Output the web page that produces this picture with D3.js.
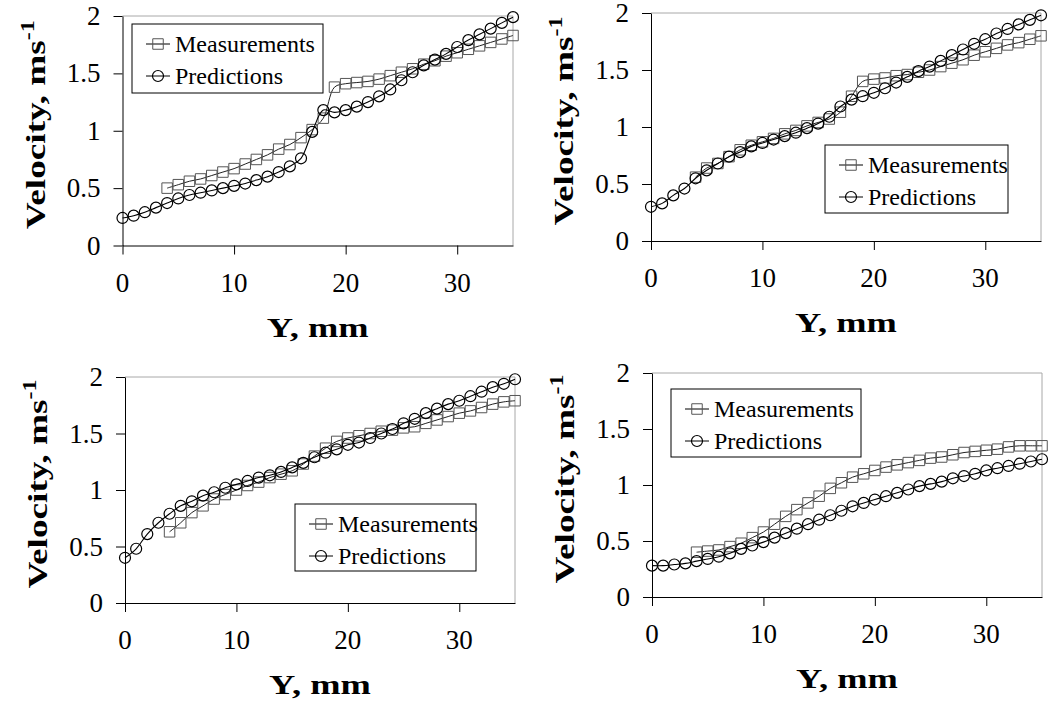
<!DOCTYPE html>
<html>
<head>
<meta charset="utf-8">
<script src="https://cdn.jsdelivr.net/npm/d3@7"></script>
<style>
  html, body { margin: 0; padding: 0; background: #fff; }
  svg { display: block; }
</style>
</head>
<body>
<svg id="chart" width="1051" height="704"></svg>
<script>
// ---------- data ----------
const predY = d3.range(0, 36);          // Y, mm for predictions
const measY = d3.range(4, 36);          // Y, mm for measurements
const xTicks = [0, 10, 20, 30];
const yTicks = [0, 0.5, 1, 1.5, 2];
const yTickLabels = ["0", "0.5", "1", "1.5", "2"];
const seriesNames = ["Measurements", "Predictions"];

const pred1 = [0.24,0.26,0.29,0.33,0.37,0.41,0.44,0.46,0.48,0.50,0.52,0.54,0.57,0.60,0.64,0.69,0.76,0.99,1.18,1.16,1.18,1.21,1.25,1.30,1.36,1.44,1.51,1.57,1.62,1.67,1.73,1.79,1.84,1.89,1.94,1.99];
const meas1 = [0.50,0.53,0.56,0.58,0.61,0.64,0.67,0.71,0.75,0.79,0.84,0.88,0.94,1.01,1.11,1.38,1.41,1.42,1.43,1.45,1.48,1.51,1.54,1.58,1.61,1.65,1.68,1.71,1.74,1.77,1.80,1.83];

const pred2 = [0.30,0.33,0.40,0.46,0.55,0.62,0.68,0.74,0.78,0.83,0.86,0.89,0.92,0.95,0.99,1.03,1.09,1.18,1.24,1.27,1.30,1.34,1.39,1.44,1.49,1.53,1.58,1.63,1.68,1.73,1.77,1.82,1.86,1.90,1.94,1.98];
const meas2 = [0.56,0.64,0.68,0.74,0.80,0.84,0.87,0.90,0.94,0.97,1.01,1.04,1.07,1.13,1.27,1.40,1.42,1.43,1.45,1.46,1.48,1.50,1.53,1.56,1.59,1.63,1.66,1.69,1.72,1.74,1.77,1.80];

const pred3 = [0.40,0.48,0.61,0.71,0.79,0.86,0.90,0.95,0.98,1.02,1.05,1.08,1.11,1.13,1.16,1.20,1.24,1.29,1.33,1.36,1.40,1.42,1.46,1.50,1.54,1.59,1.63,1.68,1.72,1.76,1.79,1.83,1.87,1.91,1.94,1.98];
const meas3 = [0.63,0.71,0.80,0.86,0.92,0.96,1.00,1.04,1.07,1.11,1.14,1.17,1.23,1.30,1.37,1.43,1.46,1.48,1.50,1.52,1.53,1.55,1.56,1.59,1.62,1.65,1.68,1.70,1.73,1.76,1.78,1.79];

const pred4 = [0.28,0.28,0.29,0.30,0.32,0.34,0.36,0.39,0.43,0.46,0.49,0.53,0.57,0.61,0.65,0.69,0.73,0.77,0.81,0.84,0.87,0.90,0.93,0.96,0.99,1.01,1.03,1.06,1.08,1.10,1.13,1.15,1.17,1.19,1.21,1.23];
const meas4 = [0.40,0.41,0.42,0.45,0.48,0.53,0.58,0.65,0.72,0.78,0.84,0.90,0.97,1.02,1.07,1.10,1.13,1.16,1.18,1.20,1.22,1.24,1.25,1.27,1.29,1.30,1.31,1.32,1.34,1.35,1.35,1.35];

// ---------- layout ----------
const panels = [
  { pred: pred1, meas: meas1, left: 122.5, right: 513,  top: 16,  bottom: 245.5, lg: { x: 132, y: 24,  w: 191, h: 69 } },
  { pred: pred2, meas: meas2, left: 651,   right: 1041, top: 13,  bottom: 241,   lg: { x: 825, y: 145, w: 183, h: 68 } },
  { pred: pred3, meas: meas3, left: 125,   right: 515,  top: 377, bottom: 603,   lg: { x: 295, y: 504, w: 181, h: 67 } },
  { pred: pred4, meas: meas4, left: 652,   right: 1042, top: 373, bottom: 597,   lg: { x: 671, y: 389, w: 190, h: 68 } }
];

const svg = d3.select("#chart");
const serif = "'Liberation Serif','Times New Roman',Times,serif";

function squarePath(cx, cy, s) {
  return `M${cx - s / 2},${cy - s / 2}h${s}v${s}h${-s}Z`;
}

panels.forEach(p => {
  const g = svg.append("g");
  const x = d3.scaleLinear().domain([0, 35]).range([p.left, p.right]);
  const y = d3.scaleLinear().domain([0, 2]).range([p.bottom, p.top]);

  // gray frame (top & right)
  g.append("path")
    .attr("d", `M${p.left},${y(2)}H${x(35)}V${y(0)}`)
    .attr("fill", "none").attr("stroke", "#a8a8a8").attr("stroke-width", 1);

  // axes
  const xa = g.append("g").attr("transform", `translate(0,${p.bottom})`)
    .call(d3.axisBottom(x).tickValues(xTicks).tickSize(9).tickSizeOuter(0).tickFormat(""));
  const ya = g.append("g").attr("transform", `translate(${p.left},0)`)
    .call(d3.axisLeft(y).tickValues(yTicks).tickSize(9).tickSizeOuter(0).tickFormat(""));
  [xa, ya].forEach(a => {
    a.select(".domain").attr("stroke", "#000").attr("stroke-width", 1);
    a.selectAll(".tick line").attr("stroke", "#000").attr("stroke-width", 1);
  });
  // 0 x-tick crosses upward slightly
  // tick labels
  g.selectAll(".xl").data(xTicks).enter().append("text")
    .attr("x", d => x(d)).attr("y", p.bottom + 37)
    .attr("text-anchor", "middle").attr("dominant-baseline", "central")
    .attr("font-family", serif).attr("font-size", 27).text(d => d);
  g.selectAll(".yl").data(yTicks).enter().append("text")
    .attr("x", p.left - 22).attr("y", d => y(d))
    .attr("text-anchor", "end").attr("dominant-baseline", "central")
    .attr("font-family", serif).attr("font-size", 27).text((d, i) => yTickLabels[i]);

  // axis titles
  g.append("text")
    .attr("transform", `translate(${(p.left + p.right) / 2},${p.bottom + 82}) scale(1.3,1)`)
    .attr("text-anchor", "middle").attr("dominant-baseline", "central")
    .attr("font-family", serif).attr("font-weight", "bold").attr("font-size", 28)
    .text("Y, mm");
  const yt = g.append("text")
    .attr("transform", `translate(${p.left - 78},${(p.top + p.bottom) / 2 - 6}) rotate(-90) scale(1.33,1)`)
    .attr("text-anchor", "middle")
    .attr("font-family", serif).attr("font-weight", "bold").attr("font-size", 28);
  yt.append("tspan").text("Velocity, ms");
  yt.append("tspan").attr("dy", -11).attr("font-size", 18).text("-1");

  // lines
  const line = d3.line().curve(d3.curveCatmullRom.alpha(0.5)).x(d => x(d[0])).y(d => y(d[1]));
  const measPts = measY.map((v, i) => [v, p.meas[i]]);
  const predPts = predY.map((v, i) => [v, p.pred[i]]);

  g.append("path").attr("d", line(measPts)).attr("fill", "none")
    .attr("stroke", "#222").attr("stroke-width", 1);
  g.selectAll(".sq").data(measPts).enter().append("path")
    .attr("d", d => squarePath(x(d[0]), y(d[1]), 10.5))
    .attr("fill", "none").attr("stroke", "#555").attr("stroke-width", 1);

  g.append("path").attr("d", line(predPts)).attr("fill", "none")
    .attr("stroke", "#000").attr("stroke-width", 1.1);
  g.selectAll(".ci").data(predPts).enter().append("circle")
    .attr("cx", d => x(d[0])).attr("cy", d => y(d[1])).attr("r", 5.5)
    .attr("fill", "none").attr("stroke", "#000").attr("stroke-width", 1.2);

  // legend
  const L = p.lg;
  const lg = g.append("g").attr("transform", `translate(${L.x},${L.y})`);
  lg.append("rect").attr("width", L.w).attr("height", L.h)
    .attr("fill", "#fff").attr("stroke", "#000").attr("stroke-width", 1);
  seriesNames.forEach((name, i) => {
    const cy = i === 0 ? 20 : 52;
    lg.append("line").attr("x1", 14).attr("x2", 38).attr("y1", cy).attr("y2", cy)
      .attr("stroke", "#000").attr("stroke-width", 1);
    if (i === 0) {
      lg.append("path").attr("d", squarePath(26, cy, 10.5))
        .attr("fill", "none").attr("stroke", "#555").attr("stroke-width", 1);
    } else {
      lg.append("circle").attr("cx", 26).attr("cy", cy).attr("r", 5.5)
        .attr("fill", "none").attr("stroke", "#000").attr("stroke-width", 1.2);
    }
    lg.append("text").attr("x", 43).attr("y", cy).attr("dominant-baseline", "central")
      .attr("font-family", serif).attr("font-size", 24).text(name);
  });
});
</script>
</body>
</html>
